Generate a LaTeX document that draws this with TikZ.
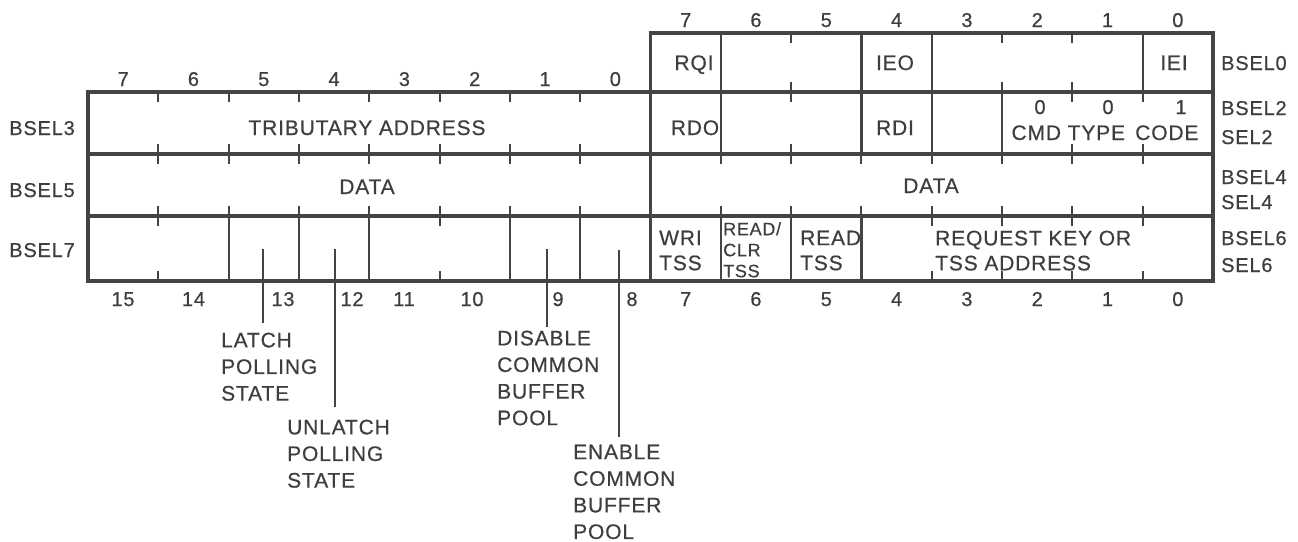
\documentclass[tikz,border=0pt]{standalone}
\usepackage{fontspec}
\setmainfont{Liberation Sans}[LetterSpace=4,FakeBold=0.5]
\definecolor{ink}{RGB}{62,62,62}
\definecolor{rule}{RGB}{68,68,68}
\begin{document}
\begin{tikzpicture}[x=1pt,y=-1pt,
  txt/.style={font=\fontsize{21}{25}\selectfont, text=ink, inner sep=0pt, anchor=base},
  num/.style={font=\fontsize{20}{24}\selectfont, text=ink, inner sep=0pt, anchor=base},
  regr/.style={font=\fontsize{20}{24}\selectfont, text=ink, inner sep=0pt, anchor=base west},
  regl/.style={font=\fontsize{20}{24}\selectfont, text=ink, inner sep=0pt, anchor=base east},
  cell/.style={font=\fontsize{21}{25}\selectfont, text=ink, inner sep=0pt, anchor=north west, align=left},
  smallcell/.style={font=\fontsize{18}{21}\selectfont, text=ink, inner sep=0pt, anchor=north west, align=left},
  note/.style={font=\fontsize{21}{26.6}\selectfont, text=ink, inner sep=0pt, anchor=north west, align=left},
  frame/.style={draw=rule, line width=3.2pt, line cap=rect},
  divider/.style={draw=rule, line width=2.2pt},
  tick/.style={draw=rule, line width=1.9pt},
  leader/.style={draw=rule, line width=1.4pt},
]
\useasboundingbox (0,0) rectangle (1298,541);
\def\cw{70.3125}
% ---------- frames ----------
\draw[frame] (650.5,33) rectangle (1213,92);
\draw[frame] (88,92) rectangle (1213,281);
\draw[frame] (88,154) -- (1213,154);
\draw[frame] (88,216) -- (1213,216);
\draw[frame] (650.5,92) -- (650.5,281);
% ---------- row 0 (BSEL0) ----------
\foreach \k in {1,3,4,7} \draw[divider] (650.5+\k*\cw,33) -- (650.5+\k*\cw,92);
\foreach \k in {2,5,6} {\draw[tick] (650.5+\k*\cw,33) -- (650.5+\k*\cw,43);
                        \draw[tick] (650.5+\k*\cw,82) -- (650.5+\k*\cw,92);}
% ---------- row 1 (BSEL3 / BSEL2) ----------
\foreach \j in {1,...,7} {\draw[tick] (88+\j*\cw,92) -- (88+\j*\cw,102);
                          \draw[tick] (88+\j*\cw,144) -- (88+\j*\cw,154);}
\foreach \k in {1,3,4,5} \draw[divider] (650.5+\k*\cw,92) -- (650.5+\k*\cw,154);
\foreach \k in {2,6,7} {\draw[tick] (650.5+\k*\cw,92) -- (650.5+\k*\cw,102);
                        \draw[tick] (650.5+\k*\cw,144) -- (650.5+\k*\cw,154);}
% ---------- row 2 (DATA) ----------
\foreach \j in {1,...,7} {\draw[tick] (88+\j*\cw,154) -- (88+\j*\cw,164);
                          \draw[tick] (88+\j*\cw,206) -- (88+\j*\cw,216);
                          \draw[tick] (650.5+\j*\cw,154) -- (650.5+\j*\cw,164);
                          \draw[tick] (650.5+\j*\cw,206) -- (650.5+\j*\cw,216);}
% ---------- row 3 (BSEL7 / BSEL6) ----------
\foreach \j in {2,3,4,6,7} \draw[divider] (88+\j*\cw,216) -- (88+\j*\cw,281);
\foreach \j in {1,5} {\draw[tick] (88+\j*\cw,216) -- (88+\j*\cw,226);
                      \draw[tick] (88+\j*\cw,271) -- (88+\j*\cw,281);}
\foreach \k in {1,2,3} \draw[divider] (650.5+\k*\cw,216) -- (650.5+\k*\cw,281);
\foreach \k in {4,5,6,7} {\draw[tick] (650.5+\k*\cw,216) -- (650.5+\k*\cw,226);
                          \draw[tick] (650.5+\k*\cw,271) -- (650.5+\k*\cw,281);}
% ---------- bit numbers ----------
\foreach \b [count=\i from 0] in {7,6,5,4,3,2,1,0} {
  \node[num] (tr\b) at (650.5+35.16+\i*\cw,27) {\b};
  \node[num] (tl\b) at (88+35.16+\i*\cw,86) {\b};
  \node[num] (br\b) at (650.5+35.16+\i*\cw,306) {\b};
}
\node[num] (b15) at (123,306) {15};
\node[num] (b14) at (193.5,306) {14};
\node[num] (b13) at (283,306) {13};
\node[num] (b12) at (352,306) {12};
\node[num] (b11) at (404,306) {11};
\node[num] (b10) at (472,306) {10};
\node[num] (b9) at (558,306) {9};
\node[num] (b8) at (632,306) {8};
% ---------- register labels ----------
\node[regr] (bsel0) at (1221,70) {BSEL0};
\node[regr] (bsel2) at (1221,115) {BSEL2};
\node[regr] (sel2) at (1221,144) {SEL2};
\node[regr] (bsel4) at (1221,184) {BSEL4};
\node[regr] (sel4) at (1221,209) {SEL4};
\node[regr] (bsel6) at (1221,245) {BSEL6};
\node[regr] (sel6) at (1221,272) {SEL6};
\node[regl] (bsel3) at (75,135) {BSEL3};
\node[regl] (bsel5) at (75,197) {BSEL5};
\node[regl] (bsel7) at (75,257) {BSEL7};
% ---------- field texts ----------
\node[txt] (rqi) at (694,70) {RQI};
\node[txt] (ieo) at (895,70) {IEO};
\node[txt] (iei) at (1174,70) {IEI};
\node[txt] (rdo) at (695,135) {RDO};
\node[txt] (rdi) at (895,135) {RDI};
\node[num] (c2) at (1040,114) {0};
\node[num] (c1) at (1108,114) {0};
\node[num] (c0) at (1181,114) {1};
\node[txt] (cmd) at (1105,140) {CMD TYPE\ \,CODE};
\node[txt] (trib) at (367,135) {TRIBUTARY ADDRESS};
\node[txt] (dataL) at (367,194) {DATA};
\node[txt] (dataR) at (931,193) {DATA};
\node[cell] (wri) at (659,230.5) {WRI\\TSS};
\node[smallcell] (rclr) at (723,222) {READ/\\CLR\\TSS};
\node[cell] (rd) at (800,230.5) {READ\\TSS};
\node[cell] (req) at (935,230.5) {REQUEST KEY OR\\TSS ADDRESS};
% ---------- notes and leaders ----------
\node[note] (latch) at (221,332.5) {LATCH\\POLLING\\STATE};
\node[note] (unlatch) at (287,419.5) {UNLATCH\\POLLING\\STATE};
\node[note] (disable) at (497,330.5) {DISABLE\\COMMON\\BUFFER\\POOL};
\node[note] (enable) at (573,444.5) {ENABLE\\COMMON\\BUFFER\\POOL};
\coordinate (p13) at (263,249);
\coordinate (p12) at (335,249);
\coordinate (p9) at (547,249);
\coordinate (p8) at (619,250);
\draw[leader, shorten >=10pt] (p13) -- (p13 |- latch.north);
\draw[leader, shorten >=13pt] (p12) -- (p12 |- unlatch.north);
\draw[leader, shorten >=4pt] (p9) -- (p9 |- disable.north);
\draw[leader, shorten >=8pt] (p8) -- (p8 |- enable.north);
\end{tikzpicture}
\end{document}
